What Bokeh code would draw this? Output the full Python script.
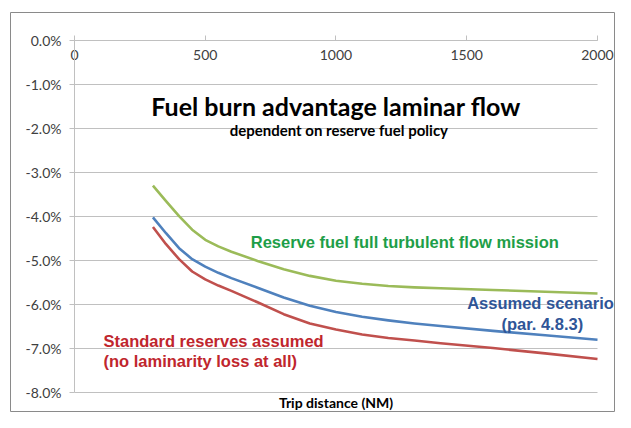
from bokeh.plotting import figure
from bokeh.models import Label, Range1d, FixedTicker, CustomJSTickFormatter
from bokeh.embed import file_html
from bokeh.resources import INLINE

# Data (trip distance in NM, fuel burn advantage in %)
distance = [300, 350, 400, 450, 500, 550, 600, 700, 800, 900, 1000, 1100, 1200, 1300, 1400, 1600, 1800, 2000]
reserve_turbulent = [-3.30, -3.65, -3.99, -4.30, -4.53, -4.68, -4.80, -5.01, -5.20, -5.35, -5.46, -5.53, -5.58, -5.61, -5.63, -5.67, -5.71, -5.75]
assumed_scenario = [-4.02, -4.38, -4.72, -4.97, -5.14, -5.28, -5.40, -5.62, -5.84, -6.03, -6.17, -6.28, -6.36, -6.43, -6.49, -6.60, -6.70, -6.80]
standard_reserves = [-4.24, -4.63, -4.97, -5.25, -5.43, -5.57, -5.69, -5.95, -6.22, -6.43, -6.57, -6.68, -6.76, -6.82, -6.88, -6.99, -7.11, -7.24]

x_ticks = [0, 500, 1000, 1500, 2000]
y_ticks = [0, -1, -2, -3, -4, -5, -6, -7, -8]

title_text = "Fuel burn advantage laminar flow"
subtitle_text = "dependent on reserve fuel policy"
x_title = "Trip distance (NM)"
label_green = "Reserve fuel full turbulent flow mission"
label_blue = ["Assumed scenario", "(par. 4.8.3)"]
label_red = ["Standard reserves assumed", "(no laminarity loss at all)"]

# The frame is the outer chart box; the plot area sits inside it.
p = figure(width=615, height=412, output_backend="svg", toolbar_location=None,
           x_range=Range1d(-244.7, 2065), y_range=Range1d(-8.4545, 0.636),
           min_border_left=10, min_border_right=1, min_border_top=12, min_border_bottom=0)
p.outline_line_color = "#8a8a8a"
p.outline_line_width = 1
p.background_fill_color = "white"
p.border_fill_color = "white"

GRID = "#c0c0c0"
TXT = "#404040"

# x axis at y = 0 (top of plot area), labels below the line
xa = p.xaxis[0]
xa.fixed_location = 0
xa.bounds = (x_ticks[0], x_ticks[-1])
xa.ticker = FixedTicker(ticks=x_ticks)
xa.axis_line_color = GRID
xa.major_tick_line_color = GRID
xa.major_tick_in = 5
xa.major_tick_out = 0
xa.minor_tick_line_color = None
xa.major_label_standoff = 10
xa.major_label_text_font = "Lato"
xa.major_label_text_font_size = "14px"
xa.major_label_text_color = TXT

# y axis at x = 0
ya = p.yaxis[0]
ya.fixed_location = 0
ya.bounds = (y_ticks[-1], y_ticks[0])
ya.ticker = FixedTicker(ticks=y_ticks)
ya.formatter = CustomJSTickFormatter(code="return tick.toFixed(1) + '%';")
ya.axis_line_color = GRID
ya.major_tick_line_color = GRID
ya.major_tick_in = 0
ya.major_tick_out = 5
ya.minor_tick_line_color = None
ya.major_label_standoff = 8
ya.major_label_text_font = "Lato"
ya.major_label_text_font_size = "14px"
ya.major_label_text_color = TXT

p.xgrid.grid_line_color = None
p.ygrid.ticker = FixedTicker(ticks=y_ticks)
p.ygrid.bounds = (y_ticks[-1], y_ticks[0])
p.ygrid.cross_bounds = (x_ticks[0], x_ticks[-1])
p.ygrid.grid_line_color = GRID
p.ygrid.grid_line_width = 1

p.line(distance, reserve_turbulent, line_color="#9bbb59", line_width=2.6, line_join="round")
p.line(distance, assumed_scenario, line_color="#4f81bd", line_width=2.6, line_join="round")
p.line(distance, standard_reserves, line_color="#c0504d", line_width=2.6, line_join="round")

p.add_layout(Label(x=1000, y=-1.5, text=title_text, text_align="center", text_baseline="middle",
                   text_font="Lato", text_font_style="bold", text_font_size="25px", text_color="black"))
p.add_layout(Label(x=1011, y=-2.03, text=subtitle_text, text_align="center", text_baseline="middle",
                   text_font="Lato", text_font_style="bold", text_font_size="15px", text_color="black"))
p.add_layout(Label(x=1000, y=-8.0, y_offset=-10, text=x_title, text_align="center", text_baseline="middle",
                   text_font="Lato", text_font_style="bold", text_font_size="14px", text_color="black"))

LF = "Liberation Sans"
p.add_layout(Label(x=674, y=-4.58, text=label_green, text_align="left", text_baseline="middle",
                   text_font=LF, text_font_style="bold", text_font_size="16.5px", text_color="#1e9e48"))
p.add_layout(Label(x=1782, y=-5.97, text=label_blue[0], text_align="center", text_baseline="middle",
                   text_font=LF, text_font_style="bold", text_font_size="16.5px", text_color="#2f5597"))
p.add_layout(Label(x=1789, y=-6.44, text=label_blue[1], text_align="center", text_baseline="middle",
                   text_font=LF, text_font_style="bold", text_font_size="16.5px", text_color="#2f5597"))
p.add_layout(Label(x=111, y=-6.84, text=label_red[0], text_align="left", text_baseline="middle",
                   text_font=LF, text_font_style="bold", text_font_size="16.5px", text_color="#c0262d"))
p.add_layout(Label(x=111, y=-7.28, text=label_red[1], text_align="left", text_baseline="middle",
                   text_font=LF, text_font_style="bold", text_font_size="16.5px", text_color="#c0262d"))

open("out.html", "w").write(file_html(p, INLINE))
